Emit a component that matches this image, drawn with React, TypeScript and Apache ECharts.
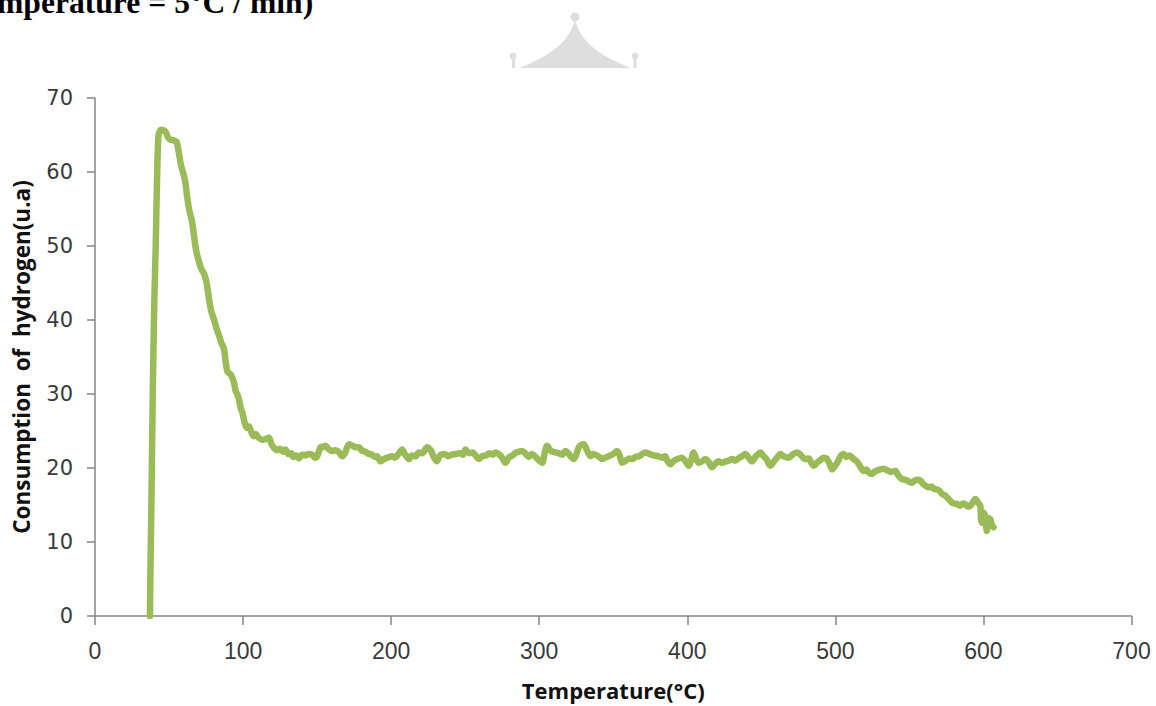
import React, { useEffect, useRef } from "react";
import * as echarts from "echarts";

const temperature: number[] = [
  37.1, 37.3, 38.2, 39.0, 40.0, 41.0, 41.9, 42.8, 43.8, 45.0, 47.5, 49.0, 50.5, 52.5, 55.0, 56.5, 58.0, 60.8,
  62.0, 63.5, 65.5, 66.8, 68.2, 70.2, 72.0, 73.6, 75.6, 77.0, 78.5, 80.3, 82.0, 83.6, 85.5, 87.0, 88.5,
  89.5, 91.8, 93.8, 95.0, 96.0, 97.2, 98.5, 99.5, 101.0, 102.5, 104.0, 105.5, 107.0, 108.5, 110.5, 113.0,
  115.0, 117.5, 119.0, 121.0, 123.0, 125.0, 127.0, 128.7, 130.5, 132.5, 134.0, 136.0, 137.7, 140.0, 142.0,
  144.5, 146.7, 148.5, 150.0, 152.3, 154.0, 155.7, 157.5, 160.2, 162.0, 164.5, 167.0, 169.0, 171.5, 174.0,
  176.0, 178.2, 180.0, 182.5, 185.0, 187.0, 189.0, 190.5, 192.8, 195.0, 197.5, 200.7, 202.5, 205.0, 207.4,
  209.5, 212.0, 214.0, 216.5, 218.7, 221.0, 224.3, 227.0, 228.5, 230.9, 233.0, 236.0, 238.5, 241.0, 244.0,
  246.5, 248.5, 250.2, 252.5, 255.0, 257.0, 259.2, 261.5, 264.0, 266.5, 268.5, 270.5, 272.5, 275.0, 277.2,
  279.5, 282.0, 284.5, 286.5, 288.5, 290.5, 293.0, 295.0, 297.5, 300.0, 302.0, 303.5, 305.3, 307.5, 309.0,
  311.0, 313.0, 315.5, 317.7, 320.0, 321.5, 323.3, 325.0, 327.0, 330.0, 332.0, 334.6, 336.5, 339.0, 340.5,
  342.4, 344.5, 347.0, 350.0, 352.6, 354.5, 356.0, 358.5, 361.0, 362.7, 365.0, 367.5, 369.5, 371.7, 373.5,
  375.5, 377.5, 380.0, 383.0, 385.0, 386.5, 388.6, 390.5, 393.0, 396.4, 398.5, 401.0, 402.5, 404.3, 406.0,
  407.7, 410.0, 412.2, 414.5, 416.7, 419.0, 421.0, 423.5, 426.0, 428.0, 430.2, 432.5, 434.5, 437.0, 439.2,
  441.5, 443.7, 446.0, 447.5, 449.4, 451.5, 453.5, 456.1, 458.5, 461.0, 462.9, 465.0, 468.5, 471.0, 474.1,
  476.5, 479.8, 482.0, 483.5, 485.4, 487.5, 490.0, 492.1, 494.0, 496.0, 497.7, 499.5, 501.5, 503.5, 505.6,
  507.5, 509.5, 512.4, 514.5, 516.5, 519.1, 521.0, 522.5, 524.7, 526.5, 528.5, 530.4, 532.5, 535.0, 537.5,
  540.5, 542.5, 545.0, 547.5, 549.5, 551.7, 553.5, 555.5, 557.4, 559.5, 561.0, 563.0, 565.0, 566.5, 568.6,
  570.5, 572.0, 574.0, 576.0, 578.8, 580.5, 582.5, 584.4, 586.0, 587.8, 589.5, 591.1, 593.0, 594.5, 596.5,
  597.9, 598.3, 598.8, 600.0, 601.2, 602.3, 603.5, 604.6, 605.5, 606.8,
];

const consumption: number[] = [
  0.0, 4.0, 17.0, 30.0, 42.0, 50.0, 59.0, 64.8, 65.5, 65.7, 65.5, 64.8, 64.4, 64.3, 64.1, 62.8, 61.0, 58.9,
  57.0, 55.0, 53.3, 51.5, 49.5, 47.9, 46.8, 46.3, 44.8, 42.8, 41.2, 40.1, 38.9, 38.0, 36.8, 36.2, 34.0,
  33.0, 32.6, 31.6, 30.4, 30.0, 29.3, 28.0, 27.5, 26.2, 25.4, 25.6, 24.9, 24.3, 24.6, 24.1, 23.8,
  23.9, 24.1, 23.3, 22.7, 22.4, 22.6, 22.2, 22.5, 21.9, 22.0, 21.5, 21.7, 21.3, 21.8, 21.7,
  21.9, 21.8, 21.4, 21.6, 22.8, 22.9, 23.0, 22.6, 22.3, 22.4, 22.2, 21.6, 22.1, 23.2, 23.0,
  22.8, 22.8, 22.4, 22.2, 21.9, 21.8, 21.5, 21.6, 20.9, 21.2, 21.4, 21.6, 21.4, 21.9, 22.5,
  21.8, 21.2, 21.7, 21.6, 22.1, 22.0, 22.8, 22.3, 21.6, 20.9, 21.7, 21.9, 21.6, 21.8, 21.9,
  22.0, 21.8, 22.5, 22.0, 22.1, 21.7, 21.2, 21.6, 21.7, 22.0, 21.8, 22.1, 21.9, 21.4, 20.7,
  21.4, 21.7, 22.1, 22.2, 22.3, 22.0, 21.5, 21.9, 21.5, 21.0, 20.7, 21.8, 23.0, 22.4, 22.2,
  22.1, 22.0, 21.8, 22.3, 21.9, 21.5, 21.2, 21.8, 22.9, 23.2, 22.5, 21.6, 21.9, 21.7, 21.5,
  21.2, 21.4, 21.6, 21.9, 22.3, 21.6, 20.7, 21.0, 21.3, 21.2, 21.5, 21.6, 21.9, 22.1, 22.0,
  21.8, 21.7, 21.6, 21.4, 21.6, 21.0, 20.5, 20.9, 21.2, 21.4, 21.0, 20.3, 21.0, 22.1, 21.2,
  20.7, 20.9, 21.2, 20.8, 20.1, 20.6, 20.9, 20.7, 20.9, 21.0, 21.2, 21.0, 21.3, 21.6, 21.9,
  21.4, 20.9, 21.5, 21.8, 22.1, 21.6, 21.2, 20.3, 20.9, 21.5, 21.9, 21.6, 21.4, 21.8, 22.1,
  21.8, 21.2, 21.3, 20.8, 20.3, 20.7, 21.1, 21.4, 21.3, 20.6, 19.8, 20.2, 20.8, 21.6, 21.9,
  21.5, 21.7, 21.2, 20.9, 20.3, 19.6, 19.8, 19.4, 19.2, 19.5, 19.7, 19.8, 19.9, 19.7, 19.5,
  19.6, 19.0, 18.5, 18.4, 18.2, 18.0, 18.3, 18.4, 18.3, 17.8, 17.6, 17.4, 17.5, 17.2, 17.1,
  16.9, 16.5, 16.3, 15.9, 15.3, 15.2, 15.1, 14.9, 15.2, 15.1, 14.8, 14.9, 15.4, 15.8, 15.3,
  14.9, 13.2, 12.6, 14.0, 13.5, 11.5, 13.2, 13.1, 12.4, 12.0,
];

const xTicks = { min: 0, max: 700, interval: 100 };
const yTicks = { min: 0, max: 70, interval: 10 };

const xName = "Temperature(°C)";
const yName = "Consumption  of  hydrogen(u.a)";
const titleText = "mperature = 5°C / min)";

const logoPath =
  "M 0 20 C 5 34 10 50 56 68 L -56 68 C -10 50 -5 34 0 20 Z";

export default function App() {
  const ref = useRef<HTMLDivElement>(null);
  useEffect(() => {
    if (!ref.current) return;
    try {
      echarts.graphic.registerShape("logo", echarts.graphic.extendPath(logoPath, {}));
    } catch (e) {}
    const chart = echarts.init(ref.current, undefined, { renderer: "svg" });
    const data = temperature.map((t, i) => [t, consumption[i]]);
    chart.setOption({
      animation: false,
      backgroundColor: "#ffffff",
      grid: { left: 95, right: 24.5, top: 98, bottom: 90 },
      xAxis: {
        type: "value",
        min: xTicks.min,
        max: xTicks.max,
        interval: xTicks.interval,
        name: xName,
        nameLocation: "middle",
        nameGap: 63,
        nameTextStyle: {
          fontFamily: "Open Sans",
          fontWeight: "bold",
          fontSize: 22,
          color: "#111111",
        },
        axisLine: { show: true, onZero: false, lineStyle: { color: "#868686", width: 1.5 } },
        axisTick: { show: true, length: 9, lineStyle: { color: "#868686", width: 1.5 } },
        splitLine: { show: false },
        axisLabel: {
          fontFamily: "Liberation Sans",
          fontSize: 23,
          color: "#3a3a3a",
          margin: 23,
        },
      },
      yAxis: {
        type: "value",
        min: yTicks.min,
        max: yTicks.max,
        interval: yTicks.interval,
        name: yName,
        nameLocation: "middle",
        nameGap: 62,
        nameTextStyle: {
          fontFamily: "Open Sans",
          fontWeight: "bold",
          fontSize: 22.5,
          color: "#111111",
        },
        axisLine: { show: true, lineStyle: { color: "#868686", width: 1.5 } },
        axisTick: { show: true, length: 8, lineStyle: { color: "#868686", width: 1.5 } },
        splitLine: { show: false },
        axisLabel: {
          fontFamily: "DejaVu Sans",
          fontSize: 21,
          color: "#3a3a3a",
          margin: 22,
        },
      },
      series: [
        {
          type: "line",
          data,
          showSymbol: false,
          symbol: "none",
          smooth: 0.3,
          lineStyle: { color: "#9bbb59", width: 6.5, cap: "round", join: "round" },
        },
      ],
      graphic: [
        {
          type: "text",
          x: -3,
          y: -13,
          scaleX: 1.02,
          style: {
            text: titleText,
            fontFamily: "Liberation Serif",
            fontWeight: "bold",
            fontSize: 31,
            fill: "#000000",
            verticalAlign: "top",
            align: "left",
          },
        },
        {
          type: "logo",
          x: 575,
          y: 0,
          style: { fill: "#dedede" },
        },
        { type: "circle", shape: { cx: 575, cy: 17, r: 4.5 }, style: { fill: "#dedede" } },
        { type: "circle", shape: { cx: 513, cy: 56, r: 3.5 }, style: { fill: "#dedede" } },
        { type: "rect", shape: { x: 512, y: 58, width: 3, height: 10 }, style: { fill: "#dedede" } },
        { type: "circle", shape: { cx: 635, cy: 56, r: 3.5 }, style: { fill: "#dedede" } },
        { type: "rect", shape: { x: 633.5, y: 58, width: 3, height: 10 }, style: { fill: "#dedede" } },
      ],
    });
    return () => chart.dispose();
  }, []);
  return (
    <div
      ref={ref}
      style={{ position: "absolute", left: 0, top: 0, width: 1156, height: 706 }}
    />
  );
}
